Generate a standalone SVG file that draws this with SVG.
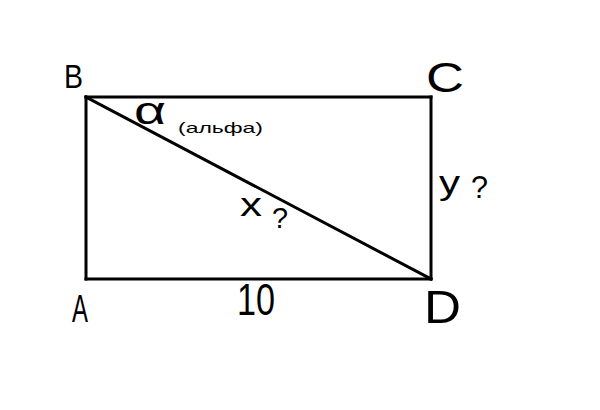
<svg xmlns="http://www.w3.org/2000/svg" width="600" height="410" viewBox="0 0 600 410">
<style>
.ln{stroke:#000;stroke-width:3;fill:none;stroke-linecap:square}
.t{font-family:"Liberation Sans","DejaVu Sans",sans-serif;fill:#000}
</style>
<rect width="600" height="410" fill="#fff"/>
<g id="connectors">
<line class="ln" x1="86" y1="97" x2="431" y2="97"/>
<line class="ln" x1="86" y1="97" x2="86" y2="279"/>
<line class="ln" x1="431" y1="97" x2="431" y2="279"/>
<line class="ln" x1="86" y1="279" x2="431" y2="279"/>
<line class="ln" x1="86" y1="97" x2="431" y2="279"/>
</g>
<g id="B"><text class="t" x="64" y="88" font-size="34" textLength="19" lengthAdjust="spacingAndGlyphs">B</text></g>
<g id="C"><text class="t" x="426" y="92" font-size="42" textLength="38" lengthAdjust="spacingAndGlyphs">C</text></g>
<g id="A"><text class="t" x="72" y="322" font-size="38" textLength="16" lengthAdjust="spacingAndGlyphs">A</text></g>
<g id="D"><text class="t" x="424" y="323" font-size="46" textLength="37" lengthAdjust="spacingAndGlyphs">D</text></g>
<g id="label10"><text class="t" x="237" y="315" font-size="44" textLength="38" lengthAdjust="spacingAndGlyphs">10</text></g>
<g id="alpha"><text class="t" x="134" y="124" font-size="38" textLength="32" lengthAdjust="spacingAndGlyphs">α</text><text class="t" x="178" y="133" font-size="15" textLength="85" lengthAdjust="spacingAndGlyphs">(альфа)</text></g>
<g id="xq"><text class="t" x="240" y="216" font-size="34" textLength="22" lengthAdjust="spacingAndGlyphs">x</text><text class="t" x="272" y="228" font-size="30" textLength="16" lengthAdjust="spacingAndGlyphs">?</text></g>
<g id="yq"><text class="t" x="439" y="194" font-size="34" textLength="21" lengthAdjust="spacingAndGlyphs">y</text><text class="t" x="471" y="198" font-size="32" textLength="17" lengthAdjust="spacingAndGlyphs">?</text></g>
</svg>
